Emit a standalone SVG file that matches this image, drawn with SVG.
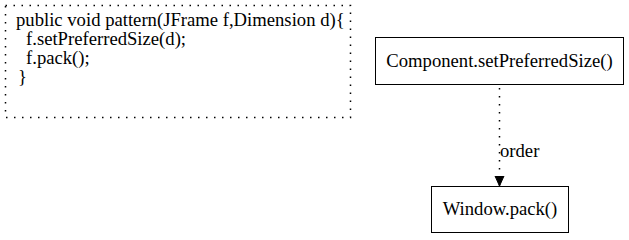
<svg xmlns="http://www.w3.org/2000/svg" width="629" height="240" viewBox="0 0 629 240">
  <style>
    .t { font-family: 'Liberation Serif', Tinos, 'Times New Roman', serif; font-size: 18.67px; fill: #000; }
    .box { fill: #fff; stroke: #000; stroke-width: 1; }
    .note { fill: none; stroke: #000; stroke-width: 1.5; stroke-dasharray: 1.5 6.5; }
    .edge { fill: none; stroke: #000; stroke-width: 1.5; stroke-dasharray: 1.5 6.5; }
  </style>
  <defs>
    <marker id="arrow" markerWidth="10" markerHeight="14" refX="10" refY="5" orient="auto" markerUnits="userSpaceOnUse">
      <path d="M0,0.5 L10,5 L0,9.5 Z" fill="#000" stroke="#000"/>
    </marker>
  </defs>
  <rect width="629" height="240" fill="#fff"/>

  <!-- code snippet note -->
  <g id="code">
    <rect class="note" x="5.5" y="5.5" width="345" height="112"/>
    <text class="t" x="16" y="26">public void pattern(JFrame f,Dimension d){</text>
    <text class="t" x="26" y="45">f.setPreferredSize(d);</text>
    <text class="t" x="26" y="64">f.pack();</text>
    <text class="t" x="18" y="83">}</text>
  </g>

  <g id="setPreferredSize">
    <rect class="box" x="375.5" y="37.5" width="248" height="47"/>
    <text class="t" x="499.5" y="67" text-anchor="middle">Component.setPreferredSize()</text>
  </g>

  <g id="pack">
    <rect class="box" x="431.5" y="186.5" width="137" height="46"/>
    <text class="t" x="500" y="215" text-anchor="middle">Window.pack()</text>
  </g>

  <g id="connectors">
    <path class="edge" d="M499.5,88 L499.5,186" marker-end="url(#arrow)"/>
    <text class="t" x="500" y="157">order</text>
  </g>
</svg>
